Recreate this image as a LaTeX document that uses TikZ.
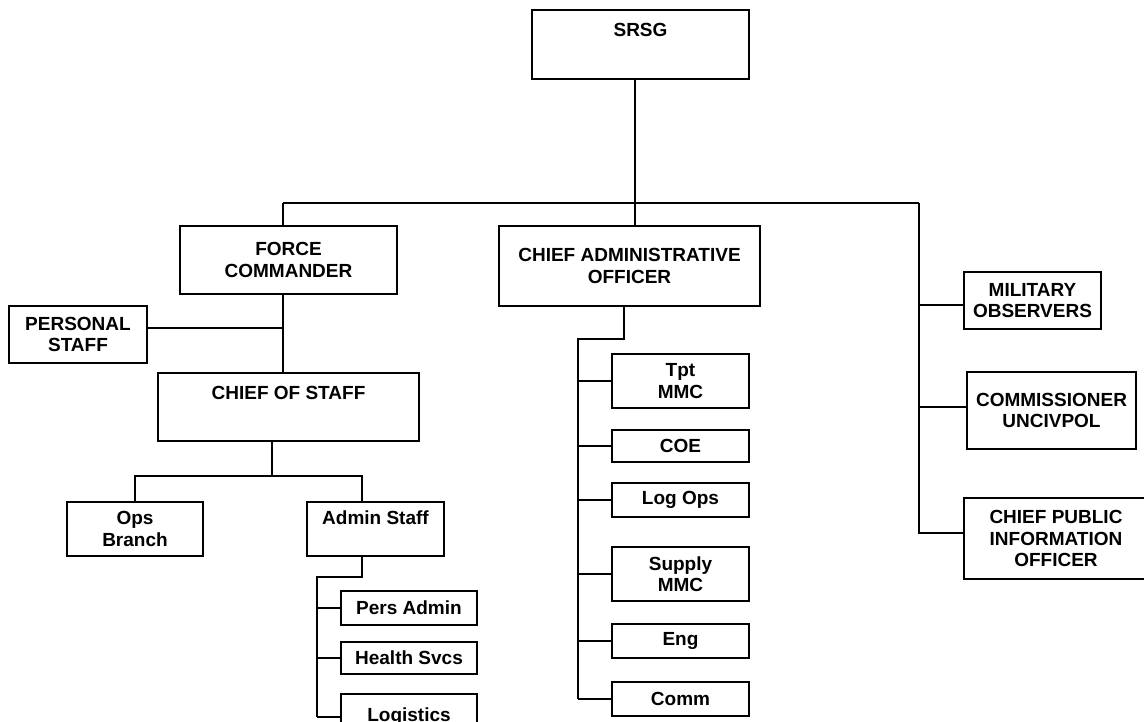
\documentclass[tikz,border=0pt]{standalone}
\usepackage{fontspec}
\setmainfont{Liberation Sans}
\usetikzlibrary{calc}

\begin{document}
\begin{tikzpicture}[x=1pt,y=-1pt,line width=1.7pt,
    unit/.style 2 args={draw,minimum width=#1,minimum height=#2,inner sep=2pt,
      align=center,font=\bfseries\fontsize{19}{21.5}\selectfont},
    headline/.style={anchor=north,inner sep=0pt,yshift=-#1,
      font=\bfseries\fontsize{19}{21.5}\selectfont}]
  \useasboundingbox (0,0) rectangle (1144,721);
  % top
  \node[unit={217}{69},label={[headline=13pt]north:SRSG}] (srsg) at (640.5,44.5) {};
  % military side
  \node[unit={217}{68}] (fc) at (288.5,260) {FORCE\\COMMANDER};
  \node[unit={138}{57}] (pstaff) at (78,334.5) {PERSONAL\\STAFF};
  \node[unit={261}{68},label={[headline=13.4pt]north:CHIEF OF STAFF}] (cos) at (288.5,407) {};
  \node[unit={136}{54}] (ops) at (135,529) {Ops\\Branch};
  \node[unit={137}{54},label={[headline=8.4pt]north:Admin Staff}] (admin) at (375.5,529) {};
  \node[unit={136}{34}] (pers) at (409,608) {Pers Admin};
  \node[unit={136}{32}] (health) at (409,658) {Health Svcs};
  \node[unit={136}{46}] (logis) at (409,717) {Logistics};
  % admin side
  \node[unit={261}{80}] (cao) at (629.5,266) {CHIEF ADMINISTRATIVE\\OFFICER};
  \node[unit={137}{54}] (tpt) at (680.5,381) {Tpt\\MMC};
  \node[unit={137}{32}] (coe) at (680.5,446) {COE};
  \node[unit={137}{34}] (logops) at (680.5,500) {Log Ops};
  \node[unit={137}{54}] (supply) at (680.5,574) {Supply\\MMC};
  \node[unit={137}{34}] (eng) at (680.5,641) {Eng};
  \node[unit={137}{34}] (comms) at (680.5,699) {Comm};
  % right column
  \node[unit={137}{57}] (milobs) at (1032.5,300.5) {MILITARY\\OBSERVERS};
  \node[unit={169}{77}] (civpol) at (1051.5,410.5) {COMMISSIONER\\UNCIVPOL};
  \node[unit={184}{81}] (cpio) at (1056,538.5) {CHIEF PUBLIC\\INFORMATION\\OFFICER};

  % main bus
  \coordinate (hub) at (635,203);
  \coordinate (lbus) at (283,203);
  \coordinate (rbus) at (919,203);
  \draw (srsg.south -| hub) -- (hub);
  \draw (lbus) -- (rbus);
  \draw (hub) -- (hub |- cao.north);
  \draw (lbus) -- (lbus |- fc.north);
  \draw (rbus) |- ([yshift=5.5pt]cpio.west);
  \draw (rbus |- milobs.west) ++(0,4.5) -- ([yshift=-4.5pt]milobs.west);
  \draw (rbus |- civpol.west) ++(0,-3.5) -- ([yshift=3.5pt]civpol.west);
  % force commander
  \draw (fc.south -| lbus) -- (cos.north -| lbus);
  \draw ([yshift=6.5pt]pstaff.east) -- +(136,0);
  % chief of staff
  \coordinate (cbus) at (272,476);
  \coordinate (abus) at (362,476);
  \draw (cos.south -| cbus) -- (cbus);
  \draw (ops.north) |- (abus) -- (abus |- admin.north);
  \coordinate (aknee) at (362,577);
  \coordinate (aspine) at (317,577);
  \draw (abus |- admin.south) -- (aknee) -- (aspine) -- (aspine |- logis.west);
  \foreach \n in {pers,health,logis}
    \draw (aspine |- \n.west) -- (\n.west);
  % chief administrative officer
  \coordinate (cknee) at (624,339);
  \coordinate (cspine) at (578,339);
  \draw (cknee |- cao.south) -- (cknee) -- (cspine) -- (cspine |- comms.west);
  \foreach \n in {tpt,coe,logops,supply,eng,comms}
    \draw (cspine |- \n.west) -- (\n.west);
\end{tikzpicture}
\end{document}
